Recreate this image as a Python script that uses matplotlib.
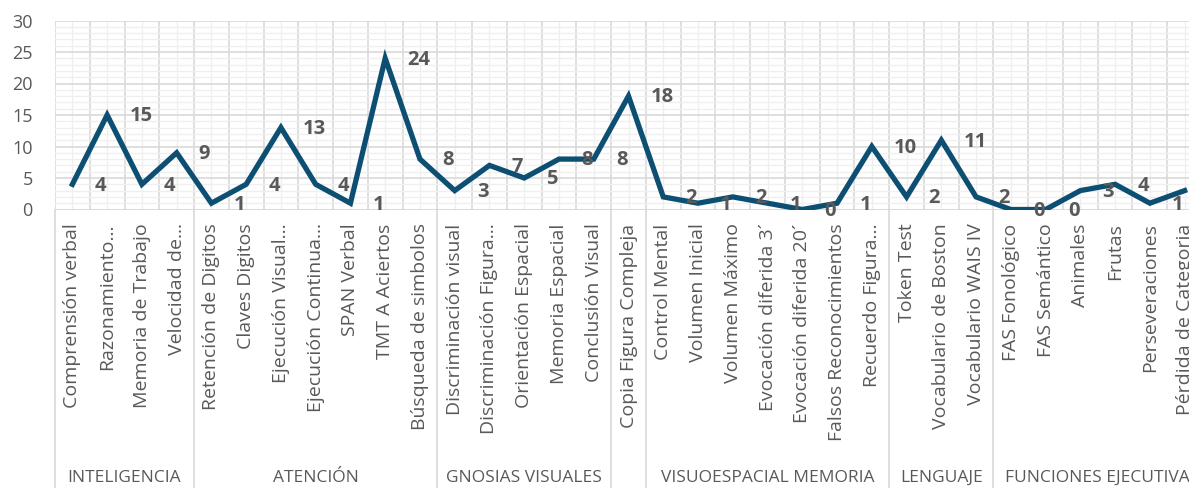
import matplotlib
matplotlib.use('Agg')
import matplotlib.pyplot as plt
from matplotlib.transforms import blended_transform_factory
import numpy as np

plt.rcParams['font.family'] = ['Open Sans', 'DejaVu Sans']

# data
tests = ['Comprensión verbal', 'Razonamiento…', 'Memoria de Trabajo', 'Velocidad de…',
         'Retención de Digitos', 'Claves Digitos', 'Ejecución Visual…', 'Ejecución Continua…',
         'SPAN Verbal', 'TMT A Aciertos', 'Búsqueda de simbolos',
         'Discriminación visual', 'Discriminación Figura…', 'Orientación Espacial',
         'Memoria Espacial', 'Conclusión Visual',
         'Copia Figura Compleja',
         'Control Mental', 'Volumen Inicial', 'Volumen Máximo', 'Evocación diferida 3´',
         'Evocación diferida 20´', 'Falsos Reconocimientos', 'Recuerdo Figura…',
         'Token Test', 'Vocabulario de Boston', 'Vocabulario WAIS IV',
         'FAS Fonológico', 'FAS Semántico', 'Animales', 'Frutas', 'Perseveraciones',
         'Pérdida de Categoria']
scores = [4, 15, 4, 9,
          1, 4, 13, 4, 1, 24, 8,
          3, 7, 5, 8, 8,
          18,
          2, 1, 2, 1, 0, 1, 10,
          2, 11, 2,
          0, 0, 3, 4, 1, 3]
group_names = ['INTELIGENCIA', 'ATENCIÓN', 'GNOSIAS VISUALES', '',
               'VISUOESPACIAL MEMORIA', 'LENGUAJE', 'FUNCIONES EJECUTIVA']
group_sizes = [4, 7, 5, 1, 7, 3, 6]

colors = {
    'line': '#0d4f72',
    'text': '#595959',
    'grid': '#d9d9d9',
    'minor': '#efefef',
}

W, H = 1189, 488
fig = plt.figure(figsize=(W / 100, H / 100), dpi=100)
left_px, right_px, top_px, zero_px = 55, 1202, 20.5, 209.5
ax = fig.add_axes([left_px / W, (H - zero_px) / H,
                   (right_px - left_px) / W, (zero_px - top_px) / H])

x = np.arange(len(tests))
ax.plot(x, scores, color=colors['line'], lw=3.8, solid_joinstyle='miter', zorder=3)

for xi, v in zip(x, scores):
    ax.annotate(str(v), (xi, v), xytext=(16, -1), textcoords='offset points',
                ha='left', va='center', fontsize=14.5, fontweight='bold',
                color=colors['text'], zorder=4)

ax.set_xlim(-0.5, len(tests) - 0.5)
ax.set_ylim(0, 30)
ax.set_yticks(np.arange(0, 31, 5))
ax.set_yticks(np.arange(0, 31, 1), minor=True)
ax.set_xticks(x)
ax.set_xticklabels(tests, rotation=90, va='top', ha='center')
ax.set_xticks(np.arange(-0.5, len(tests), 1), minor=True)
ax.tick_params(axis='x', which='both', length=0, pad=10, labelsize=14,
               labelcolor=colors['text'])
ax.tick_params(axis='y', which='both', length=0, pad=16, labelsize=13,
               labelcolor=colors['text'])

# grid: major lines at values and category edges, lighter at the rest
ax.grid(True, axis='y', which='major', color=colors['grid'], lw=1.2)
ax.grid(True, axis='y', which='minor', color=colors['minor'], lw=0.9)
ax.grid(True, axis='x', which='minor', color=colors['grid'], lw=1.2)
ax.grid(True, axis='x', which='major', color=colors['minor'], lw=0.9)
ax.set_axisbelow(True)
for s in ax.spines.values():
    s.set_visible(False)
ax.axhline(0, color=colors['grid'], lw=1.2, zorder=1)

# group separators and labels below the tick labels
trans = blended_transform_factory(ax.transData, fig.transFigure)
bounds = np.concatenate([[0], np.cumsum(group_sizes)]) - 0.5
axes_bottom = (H - zero_px) / H
for b in bounds:
    ax.plot([b, b], [0, axes_bottom], transform=trans, color=colors['grid'],
            lw=1.2, clip_on=False)
for name, a, b in zip(group_names, bounds[:-1], bounds[1:]):
    ax.text((a + b) / 2, 2 / H, name, transform=trans, ha='center', va='bottom',
            fontsize=12.5, color=colors['text'])

fig.savefig('out.png', dpi=100, facecolor='white')
